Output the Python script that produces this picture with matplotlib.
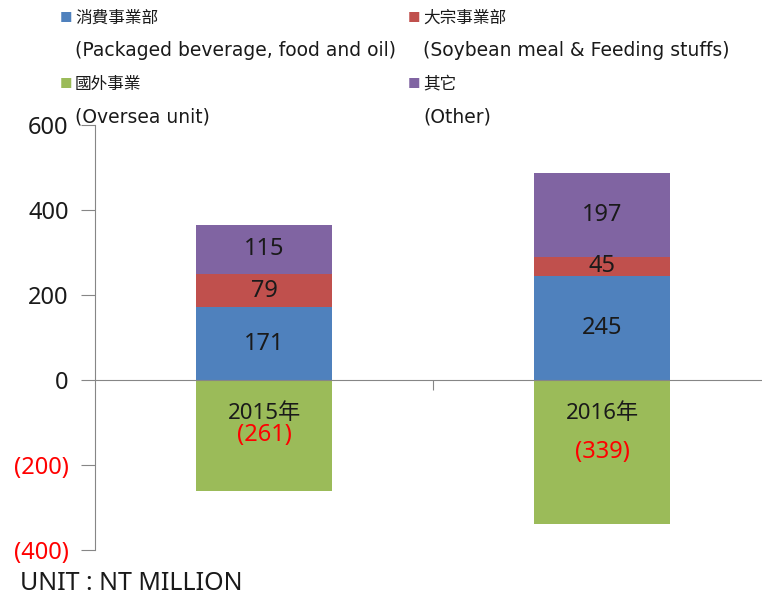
import matplotlib.pyplot as plt

plt.rcParams['font.family'] = ['Noto Sans', 'Noto Sans CJK TC']

# data
years = ['2015年', '2016年']
consumer = [171, 245]      # 消費事業部
commodity = [79, 45]       # 大宗事業部
other = [115, 197]         # 其它
oversea = [-261, -339]     # 國外事業

c_blue = '#4F81BD'
c_red = '#C0504D'
c_green = '#9BBB59'
c_purple = '#8064A2'
grey = '#868686'

fig = plt.figure(figsize=(7.62, 5.94), dpi=100)
ax = fig.add_axes([95 / 762, 1 - 550 / 594, 1 - 95 / 762, 425 / 594])

x = [0, 1]
w = 0.4
ax.bar(x, consumer, w, color=c_blue, zorder=2)
ax.bar(x, commodity, w, bottom=consumer, color=c_red, zorder=2)
base2 = [a + b for a, b in zip(consumer, commodity)]
ax.bar(x, other, w, bottom=base2, color=c_purple, zorder=2)
ax.bar(x, oversea, w, color=c_green, zorder=2)

fs = 17
for i in x:
    ax.text(i, consumer[i] / 2, str(consumer[i]), ha='center', va='center', fontsize=fs, color='#1a1a1a', zorder=3)
    ax.text(i, consumer[i] + commodity[i] / 2, str(commodity[i]), ha='center', va='center', fontsize=fs, color='#1a1a1a', zorder=3)
    ax.text(i, base2[i] + other[i] / 2, str(other[i]), ha='center', va='center', fontsize=fs, color='#1a1a1a', zorder=3)
    ax.text(i, oversea[i] / 2, '(%d)' % -oversea[i], ha='center', va='center', fontsize=fs, color='#FF0000', zorder=3)
    ax.text(i, -78, years[i], ha='center', va='center', fontsize=16, color='#1a1a1a', zorder=3)

ax.set_xlim(-0.5, 1.473)
ax.set_ylim(-400, 600)

# axes styling
for s in ['top', 'right']:
    ax.spines[s].set_visible(False)
ax.spines['left'].set_color(grey)
ax.spines['bottom'].set_color(grey)
ax.spines['bottom'].set_position(('data', 0))
ax.spines['bottom'].set_zorder(4)

ax.set_xticks([0.5])
ax.set_xticklabels([])
ax.tick_params(axis='x', direction='out', length=7, color=grey)

yt = [600, 400, 200, 0, -200, -400]
ax.set_yticks(yt)
ax.set_yticklabels([str(v) if v >= 0 else '(%d)' % -v for v in yt], fontsize=fs)
for lab, v in zip(ax.get_yticklabels(), yt):
    lab.set_color('#FF0000' if v < 0 else '#1a1a1a')
ax.tick_params(axis='y', direction='out', length=10, color=grey, pad=9)

# legend drawn as text
cjk = ['Noto Sans CJK TC', 'DejaVu Sans']
names = ['消費事業部', '大宗事業部', '國外事業', '其它']
sub = ['(Packaged beverage, food and oil)', '(Soybean meal & Feeding stuffs)',
       '(Oversea unit)', '(Other)']
cols = [c_blue, c_red, c_green, c_purple]
xs = [60 / 762, 408 / 762]
ys = [1 - 18 / 594, 1 - 84 / 594]
for k in range(4):
    cx = xs[k % 2]
    cy = ys[k // 2]
    fig.text(cx, cy, '■', color=cols[k], fontsize=9, va='center', ha='left', family=cjk)
    fig.text(cx + 15 / 762, cy, names[k], fontsize=12, va='center', ha='left', color='#1a1a1a', family=cjk)
    fig.text(cx + 15 / 762, cy - 33 / 594, sub[k], fontsize=13.5, va='center', ha='left',
             color='#1a1a1a', family='DejaVu Sans')

fig.text(20 / 762, 1 - 583 / 594, 'UNIT : NT MILLION', fontsize=18, va='center', ha='left', color='#1a1a1a')

fig.savefig('out.png', dpi=100)
